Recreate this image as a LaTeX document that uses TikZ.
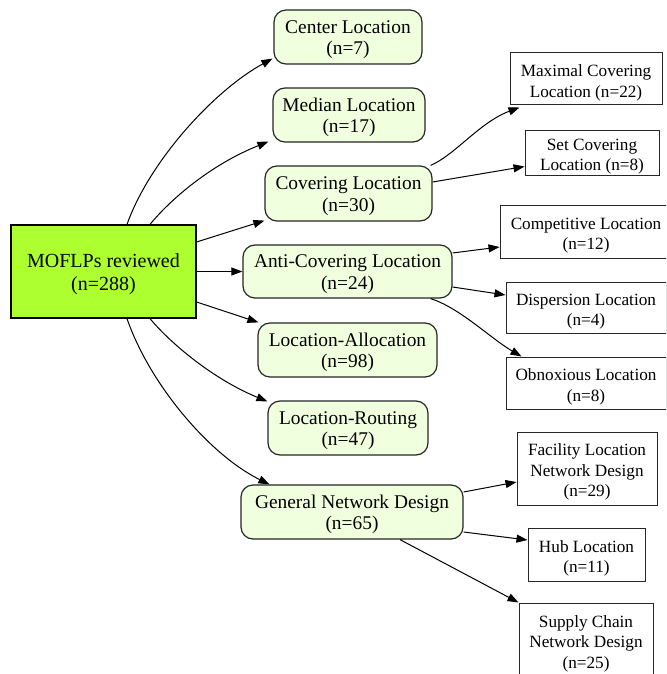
\documentclass[tikz,border=0pt]{standalone}
\usepackage{fontspec}
\setmainfont{Liberation Serif}
\usetikzlibrary{arrows.meta}
\definecolor{rootgreen}{RGB}{173,255,47}
\definecolor{midfill}{RGB}{240,255,222}
\newcommand{\rootstrut}{\rule{0pt}{18.7pt}}
\newcommand{\midstrut}{\rule{0pt}{18.5pt}}
\newcommand{\leafstrut}{\rule{0pt}{19.2pt}}
\tikzset{
  rootbox/.style={draw=black, line width=1.2pt, fill=rootgreen, align=center, inner sep=0pt,
    font=\fontsize{20}{22.7}\selectfont},
  midbox/.style={draw=black!85, line width=1.2pt, fill=midfill, rounded corners=12pt, align=center, inner sep=0pt,
    font=\fontsize{19.4}{21.5}\selectfont},
  leafbox/.style={draw=black!85, line width=1pt, fill=white, align=center, inner sep=0pt,
    font=\fontsize{17.2}{20.5}\selectfont},
  arr/.style={line width=1pt, -{Triangle[length=11pt,width=8pt]}},
}
\begin{document}
\begin{tikzpicture}[x=1pt,y=1pt]
\useasboundingbox (0,0) rectangle (666,-674);
\clip (0,0) rectangle (666,-674);
\fill[white] (0,0) rectangle (666,-674);

% root
\node[rootbox, minimum width=185pt, minimum height=93pt] (root) at (103.5,-271.5) {\rootstrut MOFLPs reviewed\\(n=288)};

% middle nodes
\node[midbox, minimum width=148pt, minimum height=54pt] (center) at (348,-37) {\midstrut Center Location\\(n=7)};
\node[midbox, minimum width=152pt, minimum height=54pt] (median) at (349,-115) {\midstrut Median Location\\(n=17)};
\node[midbox, minimum width=167pt, minimum height=55pt] (cov) at (348.5,-193.5) {\midstrut Covering Location\\(n=30)};
\node[midbox, minimum width=209pt, minimum height=53pt] (anti) at (347.5,-271.5) {\midstrut Anti-Covering Location\\(n=24)};
\node[midbox, minimum width=179pt, minimum height=54pt] (la) at (347.5,-350) {\midstrut Location-Allocation\\(n=98)};
\node[midbox, minimum width=160pt, minimum height=54pt] (lr) at (348,-428) {\midstrut Location-Routing\\(n=47)};
\node[midbox, minimum width=222pt, minimum height=54pt] (gnd) at (352,-512) {\midstrut General Network Design\\(n=65)};

% leaf nodes
\node[leafbox, minimum width=152pt, minimum height=52pt] (max) at (586,-79) {\leafstrut Maximal Covering\\Location (n=22)};
\node[leafbox, minimum width=134pt, minimum height=45pt] (set) at (592,-152.5) {\leafstrut Set Covering\\Location (n=8)};
\node[leafbox, minimum width=172pt, minimum height=53pt] (comp) at (586,-231.5) {\leafstrut Competitive Location\\(n=12)};
\node[leafbox, minimum width=160pt, minimum height=51pt] (disp) at (586,-307.5) {\leafstrut Dispersion Location\\(n=4)};
\node[leafbox, minimum width=160pt, minimum height=52pt] (obn) at (586,-383) {\leafstrut Obnoxious Location\\(n=8)};
\node[leafbox, minimum width=140pt, minimum height=73pt] (fac) at (587,-468.5) {\leafstrut Facility Location\\Network Design\\(n=29)};
\node[leafbox, minimum width=117pt, minimum height=53pt] (hub) at (586.5,-554.5) {\leafstrut Hub Location\\(n=11)};
\node[leafbox, minimum width=134pt, minimum height=74pt] (sup) at (586,-640) {\leafstrut Supply Chain\\Network Design\\(n=25)};

% root edges
\draw[arr] ([xshift=23.5pt]root.north) .. controls (150,-160) and (215,-90) .. ([shift={(-1pt,6pt)}]center.south west);
\draw[arr] ([xshift=46.5pt]root.north) .. controls (170,-200) and (210,-165) .. ([shift={(-4pt,1pt)}]median.south west);
\draw[arr] ([yshift=29.5pt]root.east) -- ([yshift=1pt]cov.south west);
\draw[arr] (root.east) -- (anti.west);
\draw[arr] ([yshift=-30.5pt]root.east) -- ([xshift=1pt]la.north west);
\draw[arr] ([xshift=46.5pt]root.south) .. controls (172,-345) and (215,-380) .. ([yshift=-1pt]lr.north west);
\draw[arr] ([xshift=23.5pt]root.south) .. controls (150,-385) and (210,-455) .. ([xshift=29pt]gnd.north west);

% covering edges
\draw[arr] ([xshift=-2pt]cov.north east) .. controls (455,-155) and (480,-122) .. ([shift={(10pt,-2pt)}]max.south west);
\draw[arr] ([yshift=11.5pt]cov.east) -- ([yshift=-14pt]set.west);

% anti-covering edges
\draw[arr] ([yshift=18.5pt]anti.east) -- ([yshift=-15.5pt]comp.west);
\draw[arr] ([yshift=-15.5pt]anti.east) -- ([yshift=12.5pt]disp.west);
\draw[arr] ([xshift=-22pt]anti.south east) .. controls (460,-308) and (490,-338) .. ([xshift=16pt]obn.north west);

% general network design edges
\draw[arr] ([yshift=20pt]gnd.east) -- ([yshift=-13.5pt]fac.west);
\draw[arr] ([yshift=-20pt]gnd.east) -- ([yshift=14.5pt]hub.west);
\draw[arr] ([xshift=48pt]gnd.south) -- (sup.north west);
\end{tikzpicture}
\end{document}
